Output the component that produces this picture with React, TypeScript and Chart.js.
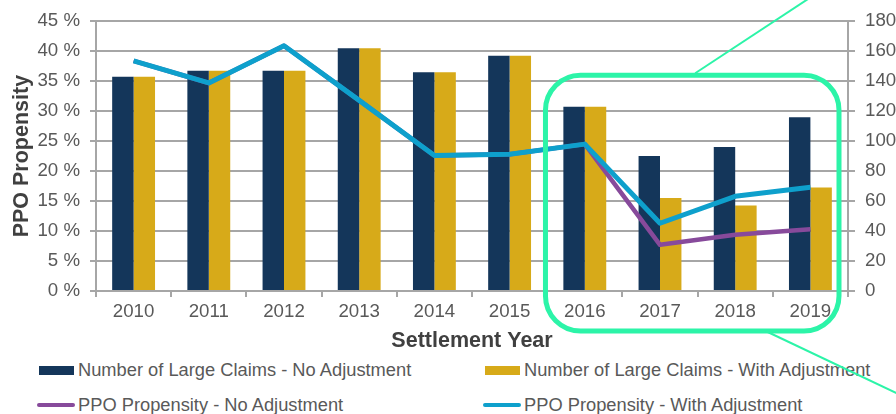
import React, { useEffect, useRef } from 'react';
import { Chart, registerables } from 'chart.js';

Chart.register(...registerables);

// ---- data ----
const years = ['2010', '2011', '2012', '2013', '2014', '2015', '2016', '2017', '2018', '2019'];
const claimsNoAdjustment = [143, 147, 147, 162, 146, 157, 123, 90, 96, 116];
const claimsWithAdjustment = [143, 147, 147, 162, 146, 157, 123, 62, 57, 69];
const ppoNoAdjustment = [38.4, 34.7, 40.9, 31.8, 22.6, 22.8, 24.5, 7.7, 9.4, 10.3];
const ppoWithAdjustment = [38.4, 34.7, 40.9, 31.8, 22.6, 22.8, 24.5, 11.3, 15.8, 17.3];
const highlightFromYear = '2016';

const seriesLabels = [
  'Number of Large Claims - No Adjustment',
  'Number of Large Claims - With Adjustment',
  'PPO Propensity - No Adjustment',
  'PPO Propensity - With Adjustment',
];

const NAVY = '#14365a';
const GOLD = '#d7aa19';
const PURPLE = '#874a9b';
const BLUE = '#0ea0cc';
const GREEN = '#2cf4a8';
const GRID = '#a6a6a6';
const TICK_TEXT = '#595959';
const TITLE_TEXT = '#404040';
const FONT = "'Liberation Sans', Arial, sans-serif";

const highlightPlugin = {
  id: 'highlightBox',
  afterDraw(chart: any) {
    const { ctx, chartArea, scales } = chart;
    const xs = scales.x;
    const idx = years.indexOf(highlightFromYear);
    const step = xs.getPixelForValue(1) - xs.getPixelForValue(0);
    const left = xs.getPixelForValue(idx) - 0.523 * step;
    const right = chartArea.right - 9;
    const top = chartArea.top + 54;
    const bottom = chartArea.bottom + 40;
    const r = 35;
    ctx.save();
    ctx.strokeStyle = GREEN;
    ctx.lineWidth = 5;
    ctx.beginPath();
    ctx.moveTo(left + r, top);
    ctx.lineTo(right - r, top);
    ctx.arcTo(right, top, right, top + r, r);
    ctx.lineTo(right, bottom - r);
    ctx.arcTo(right, bottom, right - r, bottom, r);
    ctx.lineTo(left + r, bottom);
    ctx.arcTo(left, bottom, left, bottom - r, r);
    ctx.lineTo(left, top + r);
    ctx.arcTo(left, top, left + r, top, r);
    ctx.closePath();
    ctx.stroke();

    // connector lines
    ctx.lineWidth = 2;
    const w = right - left;
    const sx1 = left + 0.51 * w;
    const sy1 = top - 2;
    const slope1 = 111 / 73;
    ctx.beginPath();
    ctx.moveTo(sx1, sy1);
    ctx.lineTo(sx1 + slope1 * (sy1 + 5), -5);
    ctx.stroke();

    const sx2 = left + 0.75 * w;
    const sy2 = bottom;
    const slope2 = 0.475;
    const ex = chart.width + 5;
    ctx.beginPath();
    ctx.moveTo(sx2, sy2);
    ctx.lineTo(ex, sy2 + slope2 * (ex - sx2));
    ctx.stroke();
    ctx.restore();
  },
};

function LegendItem({ label, color, kind, left, top }: any) {
  return (
    <div
      style={{
        position: 'absolute',
        left,
        top,
        height: 20,
        display: 'flex',
        alignItems: 'center',
        whiteSpace: 'nowrap',
        font: `18.3px ${FONT}`,
        color: TICK_TEXT,
      }}
    >
      {kind === 'box' ? (
        <span style={{ display: 'inline-block', width: 35, height: 9, background: color, marginLeft: 2, marginRight: 4 }} />
      ) : (
        <span style={{ display: 'inline-block', width: 38, height: 4, borderRadius: 2, background: color, marginRight: 3 }} />
      )}
      <span>{label}</span>
    </div>
  );
}

export default function App() {
  const canvasRef = useRef<HTMLCanvasElement | null>(null);

  useEffect(() => {
    const canvas = canvasRef.current;
    if (!canvas) return;
    const chart = new Chart(canvas, {
      type: 'bar',
      data: {
        labels: years,
        datasets: [
          {
            type: 'line',
            label: seriesLabels[3],
            data: ppoWithAdjustment,
            yAxisID: 'y',
            borderColor: BLUE,
            backgroundColor: BLUE,
            borderWidth: 5,
            pointRadius: 0,
            tension: 0,
            borderJoinStyle: 'round',
            order: 1,
          } as any,
          {
            type: 'line',
            label: seriesLabels[2],
            data: ppoNoAdjustment,
            yAxisID: 'y',
            borderColor: PURPLE,
            backgroundColor: PURPLE,
            borderWidth: 4.5,
            pointRadius: 0,
            tension: 0,
            borderJoinStyle: 'round',
            order: 2,
          } as any,
          {
            type: 'bar',
            label: seriesLabels[0],
            data: claimsNoAdjustment,
            yAxisID: 'y1',
            backgroundColor: NAVY,
            categoryPercentage: 0.57,
            barPercentage: 1,
            order: 3,
          },
          {
            type: 'bar',
            label: seriesLabels[1],
            data: claimsWithAdjustment,
            yAxisID: 'y1',
            backgroundColor: GOLD,
            categoryPercentage: 0.57,
            barPercentage: 1,
            order: 3,
          },
        ],
      },
      options: {
        responsive: false,
        animation: false,
        layout: { padding: { top: 19, left: 0, right: 0, bottom: 60 } },
        plugins: {
          legend: { display: false },
          tooltip: { enabled: false },
        },
        scales: {
          x: {
            offset: true,
            grid: { display: true, drawOnChartArea: false, drawTicks: true, tickLength: 6, color: GRID, lineWidth: 2, offset: true },
            border: { display: true, color: GRID, width: 2 },
            ticks: { color: TICK_TEXT, font: { family: FONT, size: 18.7 }, padding: 4, maxRotation: 0, autoSkip: false },
            title: {
              display: true,
              text: 'Settlement Year',
              color: TITLE_TEXT,
              font: { family: FONT, size: 21.5, weight: 'bold' },
              padding: { top: 0, bottom: 0 },
            },
            afterFit(scale: any) {
              scale.height = 63;
            },
          },
          y: {
            position: 'left',
            min: 0,
            max: 45,
            ticks: {
              stepSize: 5,
              color: TICK_TEXT,
              font: { family: FONT, size: 18.7 },
              padding: 10,
              callback: (v: any) => `${v} %`,
            },
            grid: { color: GRID, lineWidth: 2, tickLength: 6, drawTicks: true },
            border: { display: true, color: GRID, width: 2 },
            title: {
              display: true,
              text: 'PPO Propensity',
              color: TITLE_TEXT,
              font: { family: FONT, size: 21.5, weight: 'bold' },
              padding: { top: 9, bottom: 0 },
            },
            afterFit(scale: any) {
              scale.width = 96;
            },
          },
          y1: {
            position: 'right',
            min: 0,
            max: 180,
            ticks: {
              stepSize: 20,
              color: TICK_TEXT,
              font: { family: FONT, size: 18.7 },
              padding: 10,
            },
            grid: { drawOnChartArea: false, color: GRID, lineWidth: 2, tickLength: 7, drawTicks: true },
            border: { display: true, color: GRID, width: 2 },
            afterFit(scale: any) {
              scale.width = 48;
            },
          },
        },
      } as any,
      plugins: [highlightPlugin],
    });
    return () => chart.destroy();
  }, []);

  return (
    <div style={{ position: 'absolute', left: 0, top: 0, width: 896, height: 414, background: '#fff', overflow: 'hidden' }}>
      <LegendItem label={seriesLabels[0]} color={NAVY} kind="box" left={37} top={360} />
      <LegendItem label={seriesLabels[1]} color={GOLD} kind="box" left={483} top={360} />
      <LegendItem label={seriesLabels[2]} color={PURPLE} kind="line" left={37} top={395} />
      <LegendItem label={seriesLabels[3]} color={BLUE} kind="line" left={483} top={395} />
      <canvas
        ref={canvasRef}
        width={896}
        height={414}
        style={{ position: 'absolute', left: 0, top: 0, width: 896, height: 414, pointerEvents: 'none' }}
      />
    </div>
  );
}
